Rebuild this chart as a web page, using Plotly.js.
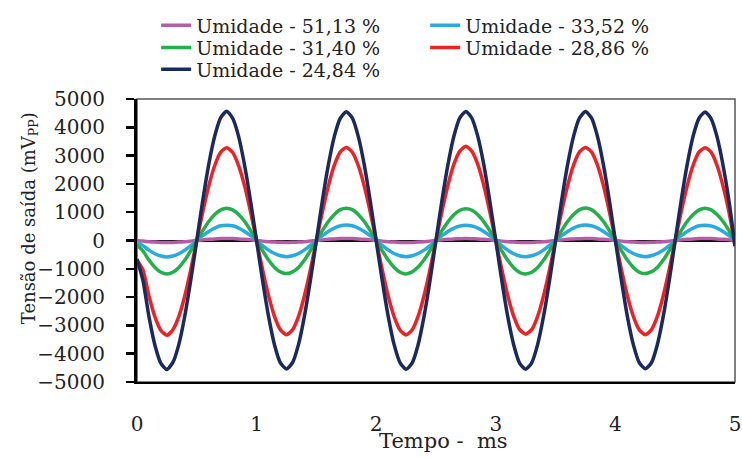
<!DOCTYPE html>
<html>
<head>
<meta charset="utf-8">
<script src="https://cdn.plot.ly/plotly-3.0.1.min.js"></script>
<style>html,body{margin:0;padding:0;background:#fff;}#chart{width:742px;height:458px;}</style>
</head>
<body>
<div id="chart"></div>
<script>
var tempo = [0,0.05,0.1,0.15,0.2,0.25,0.3,0.35,0.4,0.45,0.5,0.55,0.6,0.65,0.7,0.75,0.8,0.85,0.9,0.95,
1,1.05,1.1,1.15,1.2,1.25,1.3,1.35,1.4,1.45,1.5,1.55,1.6,1.65,1.7,1.75,1.8,1.85,1.9,1.95,
2,2.05,2.1,2.15,2.2,2.25,2.3,2.35,2.4,2.45,2.5,2.55,2.6,2.65,2.7,2.75,2.8,2.85,2.9,2.95,
3,3.05,3.1,3.15,3.2,3.25,3.3,3.35,3.4,3.45,3.5,3.55,3.6,3.65,3.7,3.75,3.8,3.85,3.9,3.95,
4,4.05,4.1,4.15,4.2,4.25,4.3,4.35,4.4,4.45,4.5,4.55,4.6,4.65,4.7,4.75,4.8,4.85,4.9,4.95,5];

var u5113 = [-10,-22,-41,-57,-67,-70,-67,-57,-41,-22,0,22,41,57,67,70,67,57,41,22,
0,-22,-41,-57,-66,-70,-66,-56,-41,-21,0,22,42,57,67,71,67,57,41,22,
0,-22,-41,-56,-67,-70,-67,-57,-41,-22,0,22,41,57,66,70,66,57,41,22,
0,-22,-42,-57,-67,-71,-67,-57,-41,-22,0,21,41,56,66,70,67,57,41,22,
0,-22,-41,-57,-67,-70,-66,-56,-41,-22,0,22,41,57,67,70,67,57,41,22,-10];

var u3352 = [-60,-180,-340,-470,-550,-580,-550,-470,-340,-180,0,170,320,440,520,540,520,440,320,170,
0,-180,-340,-460,-540,-570,-540,-460,-330,-170,0,170,320,440,520,550,520,440,320,170,
0,-170,-330,-460,-540,-570,-540,-460,-340,-180,0,170,320,440,510,540,510,440,320,170,
0,-180,-340,-470,-550,-570,-540,-460,-330,-170,0,170,320,440,520,550,520,440,320,170,
0,-180,-340,-460,-540,-570,-540,-460,-340,-180,0,170,320,440,520,540,510,440,320,170,-30];

var u3140 = [-150,-370,-690,-950,-1120,-1180,-1120,-950,-690,-360,0,350,670,920,1080,1140,1080,920,670,350,
0,-360,-690,-950,-1110,-1170,-1110,-950,-690,-360,0,350,670,920,1090,1140,1090,920,670,350,
0,-360,-690,-950,-1120,-1180,-1110,-940,-680,-360,0,350,660,910,1070,1120,1070,910,660,350,
0,-370,-700,-960,-1130,-1180,-1120,-950,-690,-360,0,350,670,920,1090,1150,1090,920,670,350,
0,-360,-690,-950,-1120,-1170,-1110,-950,-690,-360,0,350,670,920,1080,1140,1080,920,670,350,-50];

var u2886 = [-700,-1040,-1960,-2700,-3180,-3350,-3150,-2680,-1950,-1020,0,1010,1930,2650,3120,3280,3110,2640,1920,1000,
-10,-1030,-1950,-2690,-3160,-3330,-3160,-2690,-1950,-1030,0,1010,1930,2660,3130,3290,3120,2650,1920,1010,
0,-1030,-1960,-2690,-3170,-3340,-3160,-2680,-1950,-1020,10,1030,1960,2700,3170,3330,3150,2680,1940,1010,
-10,-1020,-1950,-2680,-3150,-3310,-3150,-2680,-1940,-1020,0,1010,1930,2660,3130,3290,3130,2660,1930,1010,
0,-1020,-1950,-2680,-3160,-3330,-3160,-2690,-1950,-1020,0,1010,1930,2660,3130,3280,3120,2650,1920,1000,-180];

var u2484 = [-650,-1420,-2690,-3700,-4340,-4560,-4310,-3670,-2660,-1390,10,1420,2690,3690,4340,4570,4320,3670,2650,1380,
-20,-1410,-2680,-3690,-4330,-4540,-4320,-3680,-2670,-1400,0,1410,2670,3680,4320,4550,4330,3680,2680,1400,
-10,-1400,-2670,-3680,-4320,-4550,-4330,-3690,-2680,-1410,10,1420,2680,3690,4340,4560,4320,3670,2670,1390,
0,-1410,-2690,-3690,-4340,-4550,-4320,-3670,-2660,-1400,0,1400,2670,3680,4330,4560,4330,3680,2670,1400,
-10,-1400,-2680,-3680,-4320,-4530,-4330,-3690,-2680,-1410,0,1410,2680,3690,4330,4540,4310,3660,2660,1390,-200];

var seriesNames = ["Umidade - 51,13 %","Umidade - 33,52 %","Umidade - 31,40 %","Umidade - 28,86 %","Umidade - 24,84 %"];
var seriesData = [u5113, u3352, u3140, u2886, u2484];
var seriesColors = ["#b85ca8","#29abe2","#22b04a","#ed2224","#1b2a5e"];
var legendRows = ["legend","legend","legend2","legend2","legend3"];

var traces = seriesData.map(function(d, i){
  return {x: tempo, y: d, name: seriesNames[i], type: "scatter", mode: "lines",
          legend: legendRows[i],
          line: {color: seriesColors[i], width: 3.5, shape: "spline", smoothing: 0.6}};
});

var serif = "DejaVu Serif";
function legendRow(yPos){
  return {orientation: "h", x: 0.032, xanchor: "left", y: yPos, yanchor: "top",
          font: {family: serif, size: 19, color: "#222"}, entrywidth: 224,
          bgcolor: "rgba(0,0,0,0)", borderwidth: 0};
}
var layout = {
  width: 742, height: 458,
  margin: {l: 137, r: 7, t: 96, b: 76},
  paper_bgcolor: "#fff", plot_bgcolor: "#fff",
  font: {family: serif, color: "#222", size: 20},
  showlegend: true,
  legend: legendRow(1.327),
  legend2: legendRow(1.249),
  legend3: legendRow(1.172),
  xaxis: {range: [0, 5], dtick: 1, tick0: 0, showgrid: false, zeroline: false,
          showline: true, linecolor: "#000", linewidth: 2, ticks: "",
          ticklabelstandoff: 23, ticklabeloverflow: "allow",
          tickfont: {family: serif, size: 20, color: "#222"}},
  yaxis: {range: [-5000, 5000], dtick: 1000, tick0: 0, showgrid: false,
          zeroline: true, zerolinecolor: "#000", zerolinewidth: 2,
          showline: true, linecolor: "#000", linewidth: 3, ticks: "outside", ticklen: 8,
          tickwidth: 2.5, tickcolor: "#000", ticklabelstandoff: 17,
          tickfont: {family: serif, size: 20, color: "#222"}},
  shapes: [{type: "rect", xref: "paper", yref: "paper", x0: 0, x1: 1, y0: 0, y1: 1,
            line: {color: "#555", width: 1.5}, layer: "below"}],
  annotations: [
    {text: "Tensão de saída (mV<sub>PP</sub>)", textangle: -90,
     xref: "paper", yref: "paper", x: -0.18, y: 0.58, xanchor: "center", yanchor: "middle",
     showarrow: false, font: {family: serif, size: 18, color: "#222"}},
    {text: "Tempo -\u00a0 ms", xref: "paper", yref: "paper", x: 0.512, y: -0.21,
     xanchor: "center", yanchor: "middle", showarrow: false,
     font: {family: serif, size: 21, color: "#222"}}
  ]
};

Plotly.newPlot("chart", traces, layout, {staticPlot: true, displayModeBar: false});
</script>
</body>
</html>
